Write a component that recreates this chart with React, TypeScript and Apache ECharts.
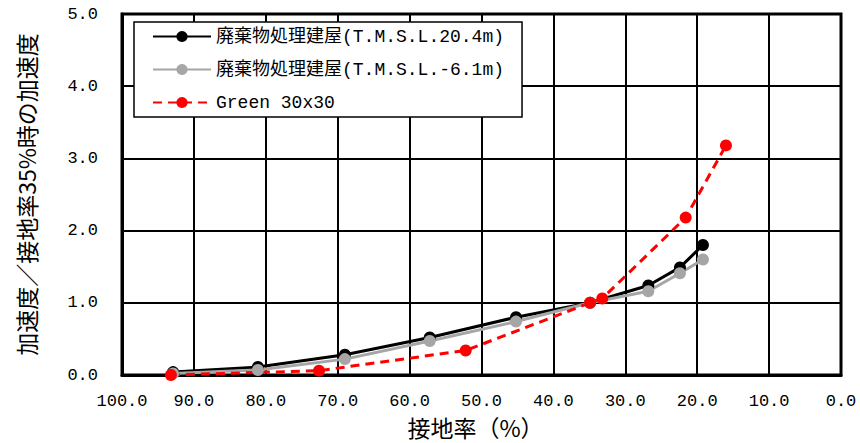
import React, { useEffect, useRef } from "react";
import * as echarts from "echarts";

const seriesNames = [
  "廃棄物処理建屋(T.M.S.L.20.4m)",
  "廃棄物処理建屋(T.M.S.L.-6.1m)",
  "Green 30x30",
];

const upperX = [92.9, 81.1, 69.0, 57.2, 45.2, 34.9, 26.8, 22.4, 19.2];
const upperY = [0.04, 0.11, 0.28, 0.52, 0.8, 1.0, 1.24, 1.49, 1.8];

const lowerX = [92.9, 81.1, 69.0, 57.2, 45.2, 34.9, 26.8, 22.4, 19.2];
const lowerY = [0.02, 0.07, 0.22, 0.47, 0.74, 1.0, 1.16, 1.41, 1.6];

const greenX = [93.2, 72.6, 52.2, 34.9, 33.2, 21.6, 16.0];
const greenY = [0.0, 0.06, 0.34, 1.0, 1.06, 2.18, 3.18];

const xTitle = "接地率（%）";
const yTitle = "加速度／接地率35%時の加速度";

const zip = (xs: number[], ys: number[]) => xs.map((x, i) => [x, ys[i]]);

const monoFont = "'Liberation Mono', 'Noto Sans CJK JP', monospace";
const cjkFont = "'Noto Sans CJK JP', 'Liberation Serif', serif";

export default function App() {
  const ref = useRef<HTMLDivElement>(null);
  useEffect(() => {
    document.body.style.margin = "0";
    if (!ref.current) return;
    const chart = echarts.init(ref.current, null, { renderer: "svg" });
    chart.setOption({
      animation: false,
      backgroundColor: "#fff",
      grid: {
        left: 122,
        right: 19,
        top: 14,
        bottom: 67,
        show: true,
        borderColor: "#000",
        borderWidth: 3,
      },
      legend: {
        orient: "vertical",
        left: 134,
        top: 22,
        data: seriesNames,
        itemWidth: 58,
        itemHeight: 14,
        itemGap: 13,
        padding: [4.5, 18, 4.5, 18],
        backgroundColor: "#fff",
        borderColor: "#000",
        borderWidth: 1.5,
        textStyle: {
          fontFamily: monoFont,
          fontSize: 18,
          color: "#000",
          lineHeight: 20,
        },
      },
      xAxis: {
        type: "value",
        inverse: true,
        min: 0,
        max: 100,
        interval: 10,
        name: xTitle,
        nameLocation: "middle",
        nameGap: 40,
        nameTextStyle: {
          fontFamily: cjkFont,
          fontSize: 23,
          color: "#000",
          padding: [0, 12, 0, 0],
        },
        axisLine: { show: true, lineStyle: { color: "#000", width: 3 } },
        axisTick: { show: false },
        axisLabel: {
          margin: 18,
          fontFamily: monoFont,
          fontSize: 17,
          color: "#000",
          formatter: (v: number) => v.toFixed(1),
        },
        splitLine: { show: true, lineStyle: { color: "#000", width: 2 } },
      },
      yAxis: {
        type: "value",
        min: 0,
        max: 5,
        interval: 1,
        name: yTitle,
        nameLocation: "middle",
        nameGap: 85,
        nameTextStyle: {
          fontFamily: cjkFont,
          fontSize: 23,
          color: "#000",
        },
        axisLine: { show: true, onZero: false, lineStyle: { color: "#000", width: 3 } },
        axisTick: { show: false },
        axisLabel: {
          margin: 24,
          fontFamily: monoFont,
          fontSize: 17,
          color: "#000",
          formatter: (v: number) => v.toFixed(1),
        },
        splitLine: { show: true, lineStyle: { color: "#000", width: 2 } },
      },
      series: [
        {
          name: seriesNames[0],
          type: "line",
          data: zip(upperX, upperY),
          symbol: "circle",
          symbolSize: 12,
          color: "#000",
          lineStyle: { color: "#000", width: 3 },
          itemStyle: { color: "#000" },
        },
        {
          name: seriesNames[1],
          type: "line",
          data: zip(lowerX, lowerY),
          symbol: "circle",
          symbolSize: 12,
          color: "#a6a6a6",
          lineStyle: { color: "#a6a6a6", width: 3 },
          itemStyle: { color: "#a6a6a6" },
        },
        {
          name: seriesNames[2],
          type: "line",
          data: zip(greenX, greenY),
          symbol: "circle",
          symbolSize: 12,
          color: "#ff0000",
          lineStyle: { color: "#ff0000", width: 3, type: [9, 6] },
          itemStyle: { color: "#ff0000" },
        },
      ],
    });
    return () => chart.dispose();
  }, []);
  return <div ref={ref} style={{ width: 860, height: 443 }} />;
}
